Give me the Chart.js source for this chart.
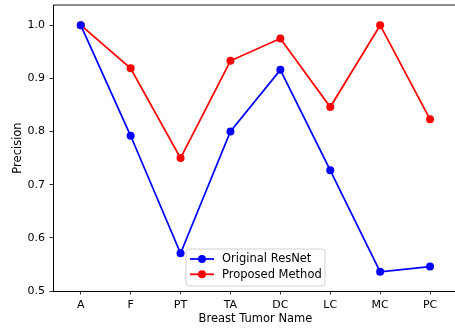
<!DOCTYPE html>
<html>
<head>
<meta charset="utf-8">
<script src="https://cdn.jsdelivr.net/npm/chart.js@4/dist/chart.umd.min.js"></script>
<style>
html,body{margin:0;padding:0;background:#fff;overflow:hidden;width:455px;height:329px;}
canvas{display:block;}
</style>
</head>
<body>
<canvas id="c" width="458" height="329"></canvas>
<script>
const categories = ["A", "F", "PT", "TA", "DC", "LC", "MC", "PC"];
const resnetValues = [1.0, 0.792, 0.571, 0.800, 0.916, 0.727, 0.536, 0.546];
const proposedValues = [1.0, 0.919, 0.750, 0.933, 0.975, 0.846, 1.0, 0.823];
const yTicks = [0.5, 0.6, 0.7, 0.8, 0.9, 1.0];
const seriesNames = ["Original ResNet", "Proposed Method"];
const seriesColors = ["#0000ff", "#ff0000"];

const FONT = {family: "'DejaVu Sans', sans-serif", size: 11};

function toPoints(vals) { return vals.map((v, i) => ({x: i, y: v})); }

const frame = {
  id: 'frame',
  beforeDatasetsDraw(chart) {
    const {ctx, chartArea} = chart;
    ctx.save();
    ctx.strokeStyle = '#000';
    ctx.lineWidth = 0.9;
    ctx.beginPath();
    ctx.moveTo(chartArea.left, chartArea.top);
    ctx.lineTo(chartArea.right, chartArea.top);
    ctx.stroke();
    ctx.restore();
  }
};

const legendBox = {
  id: 'legendBox',
  afterDatasetsDraw(chart) {
    const {ctx} = chart;
    const x = 186, y = 249, w = 139, h = 37, r = 3;
    ctx.save();
    ctx.beginPath();
    ctx.moveTo(x + r, y);
    ctx.lineTo(x + w - r, y); ctx.quadraticCurveTo(x + w, y, x + w, y + r);
    ctx.lineTo(x + w, y + h - r); ctx.quadraticCurveTo(x + w, y + h, x + w - r, y + h);
    ctx.lineTo(x + r, y + h); ctx.quadraticCurveTo(x, y + h, x, y + h - r);
    ctx.lineTo(x, y + r); ctx.quadraticCurveTo(x, y, x + r, y);
    ctx.closePath();
    ctx.fillStyle = 'rgba(255,255,255,0.8)';
    ctx.fill();
    ctx.strokeStyle = 'rgba(204,204,204,0.9)';
    ctx.lineWidth = 1;
    ctx.stroke();
    chart.data.datasets.forEach((ds, i) => {
      const cy = 259 + i * 15.3;
      ctx.strokeStyle = ds.borderColor;
      ctx.lineWidth = 1.75;
      ctx.beginPath();
      ctx.moveTo(190, cy); ctx.lineTo(214, cy);
      ctx.stroke();
      ctx.fillStyle = ds.borderColor;
      ctx.beginPath();
      ctx.arc(202, cy, 4, 0, Math.PI * 2);
      ctx.fill();
      ctx.fillStyle = '#000';
      ctx.font = "11.5px 'DejaVu Sans', sans-serif";
      ctx.textBaseline = 'middle';
      ctx.textAlign = 'left';
      ctx.fillText(ds.label, 222, cy + 0.5);
    });
    ctx.restore();
  }
};

new Chart(document.getElementById('c'), {
  type: 'line',
  data: {
    datasets: [
      {label: seriesNames[0], data: toPoints(resnetValues), borderColor: seriesColors[0], backgroundColor: seriesColors[0],
       borderWidth: 1.75, pointRadius: 4, pointBorderWidth: 0, pointBackgroundColor: seriesColors[0], tension: 0, fill: false},
      {label: seriesNames[1], data: toPoints(proposedValues), borderColor: seriesColors[1], backgroundColor: seriesColors[1],
       borderWidth: 1.75, pointRadius: 4, pointBorderWidth: 0, pointBackgroundColor: seriesColors[1], tension: 0, fill: false}
    ]
  },
  options: {
    responsive: false,
    animation: false,
    devicePixelRatio: 1,
    layout: {padding: {top: 5, left: 0, right: 0, bottom: 0}, autoPadding: false},
    plugins: {legend: {display: false}, tooltip: {enabled: false}},
    scales: {
      x: {
        type: 'linear',
        min: -0.556,
        max: 7.56,
        afterBuildTicks: s => { s.ticks = categories.map((_, i) => ({value: i})); },
        afterFit: s => { s.height = 38; s.paddingLeft = 0; s.paddingRight = 0; },
        grid: {display: true, drawOnChartArea: false, tickLength: 3.5, tickColor: '#000', tickWidth: 0.8},
        border: {display: true, color: '#000', width: 1},
        ticks: {color: '#000', font: FONT, padding: 4, maxRotation: 0, autoSkip: false,
                callback: v => categories[v]},
        title: {display: true, text: 'Breast Tumor Name', color: '#000', font: {family: FONT.family, size: 11.5}, padding: {top: 0, bottom: 3}}
      },
      y: {
        type: 'linear',
        min: 0.5,
        max: 1.038,
        afterBuildTicks: s => { s.ticks = yTicks.map(v => ({value: v})); },
        afterFit: s => { s.width = 53; s.paddingTop = 0; s.paddingBottom = 0; },
        grid: {display: true, drawOnChartArea: false, tickLength: 3.5, tickColor: '#000', tickWidth: 0.8},
        border: {display: true, color: '#000', width: 1},
        ticks: {color: '#000', font: FONT, padding: 4.5, callback: v => v.toFixed(1)},
        title: {display: true, text: 'Precision', color: '#000', font: {family: FONT.family, size: 11.5}, padding: {top: 11, bottom: 0}}
      }
    }
  },
  plugins: [frame, legendBox]
});
</script>
</body>
</html>
